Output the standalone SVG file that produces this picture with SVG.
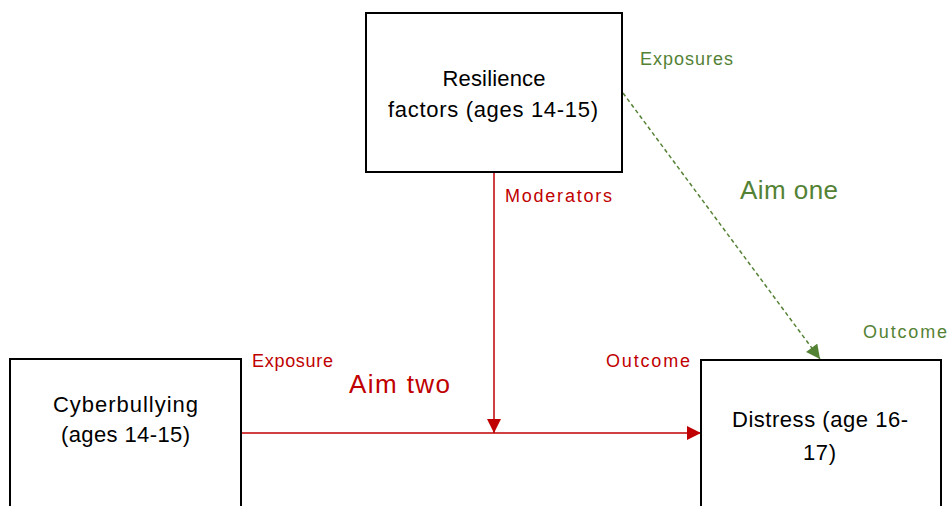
<svg xmlns="http://www.w3.org/2000/svg" width="948" height="506" viewBox="0 0 948 506">
<style>
.box{fill:#fff;stroke:#000;stroke-width:2}
.t{font-family:"Liberation Sans",Arial,sans-serif;font-size:22px;fill:#000;text-anchor:middle}
.g{font-family:"Liberation Sans",Arial,sans-serif;fill:#548235}
.r{font-family:"Liberation Sans",Arial,sans-serif;fill:#C00000}
.s{font-size:18px}
.b{font-size:26px}
</style>
<defs>
<marker id="ar" viewBox="0 0 10 10" refX="10" refY="5" markerWidth="15" markerHeight="14" markerUnits="userSpaceOnUse" orient="auto"><path d="M0,0 L10,5 L0,10 z" fill="#C00000"/></marker>
<marker id="ag" viewBox="0 0 10 10" refX="10" refY="5" markerWidth="15" markerHeight="14" markerUnits="userSpaceOnUse" orient="auto"><path d="M0,0 L10,5 L0,10 z" fill="#548235"/></marker>
</defs>
<rect width="948" height="506" fill="#fff"/>
<g id="connectors">
<line x1="241" y1="433" x2="701" y2="433" stroke="#C00000" stroke-width="1.5" marker-end="url(#ar)"/>
<line x1="494" y1="173" x2="494" y2="433" stroke="#C00000" stroke-width="1.5" marker-end="url(#ar)"/>
<line x1="623" y1="93" x2="820" y2="359" stroke="#548235" stroke-width="1.5" stroke-dasharray="4,3" marker-end="url(#ag)"/>
</g>
<g id="resilience">
<rect class="box" x="366" y="13" width="256" height="159"/>
<text class="t" x="494" y="86" textLength="103" lengthAdjust="spacing">Resilience</text>
<text class="t" x="493" y="117" textLength="210" lengthAdjust="spacing">factors (ages 14-15)</text>
</g>
<g id="cyberbullying">
<rect class="box" x="10" y="359" width="231" height="160"/>
<text class="t" x="125.5" y="412" textLength="145" lengthAdjust="spacing">Cyberbullying</text>
<text class="t" x="125.5" y="442" textLength="129" lengthAdjust="spacing">(ages 14-15)</text>
</g>
<g id="distress">
<rect class="box" x="701" y="360" width="240" height="160"/>
<text class="t" x="820" y="427" textLength="176" lengthAdjust="spacing">Distress (age 16-</text>
<text class="t" x="819.5" y="460" textLength="33" lengthAdjust="spacing">17)</text>
</g>
<g id="labels">
<text class="g s" x="640" y="65" textLength="93" lengthAdjust="spacing">Exposures</text>
<text class="g b" x="740" y="199" textLength="98" lengthAdjust="spacing">Aim one</text>
<text class="g s" x="863" y="338" textLength="84" lengthAdjust="spacing">Outcome</text>
<text class="r s" x="505" y="202" textLength="107" lengthAdjust="spacing">Moderators</text>
<text class="r s" x="252" y="367" textLength="81" lengthAdjust="spacing">Exposure</text>
<text class="r b" x="349" y="393" textLength="101" lengthAdjust="spacing">Aim two</text>
<text class="r s" x="606" y="367" textLength="84" lengthAdjust="spacing">Outcome</text>
</g>
</svg>
